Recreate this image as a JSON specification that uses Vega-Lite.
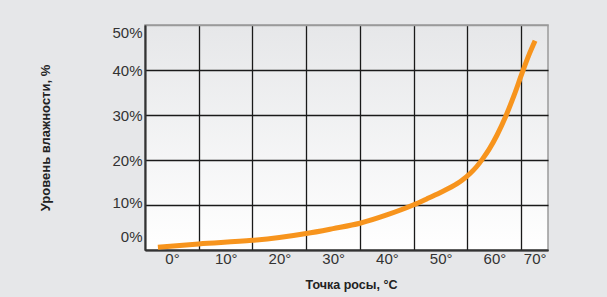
{
  "$schema": "https://vega.github.io/schema/vega-lite/v6.json",
  "autosize": "none",
  "width": 403,
  "height": 225,
  "padding": {"left": 145, "top": 25, "right": 59, "bottom": 47},
  "background": "#e6e7e9",
  "config": {
    "view": {
      "stroke": "#9a9a9a",
      "strokeWidth": 1.5,
      "fill": {"gradient": "linear", "x1": 0, "y1": 0, "x2": 0, "y2": 1,
        "stops": [{"offset": 0, "color": "#e6e7e9"}, {"offset": 1, "color": "#ffffff"}]}
    },
    "axis": {
      "labelFont": "Liberation Sans",
      "labelFontSize": 15,
      "labelColor": "#333333",
      "titleFont": "Liberation Sans",
      "titleFontWeight": "bold",
      "titleColor": "#222222",
      "grid": true,
      "gridColor": "#1a1a1a",
      "gridWidth": 1.3,
      "gridOpacity": 1,
      "domainColor": "#333333",
      "domainWidth": 2,
      "ticks": false,
      "labelFlush": false,
      "labelOverlap": false
    }
  },
  "data": {
    "values": [
      {"t": -2.6, "h": 0.6},
      {"t": 5.0, "h": 1.35},
      {"t": 15.0, "h": 2.15},
      {"t": 20.0, "h": 2.8},
      {"t": 25.0, "h": 3.65},
      {"t": 30.0, "h": 4.75},
      {"t": 35.0, "h": 5.95},
      {"t": 40.0, "h": 7.8},
      {"t": 44.9, "h": 10.0},
      {"t": 47.5, "h": 11.4},
      {"t": 50.0, "h": 12.8},
      {"t": 52.0, "h": 14.0},
      {"t": 54.0, "h": 15.5},
      {"t": 55.5, "h": 17.0},
      {"t": 56.7, "h": 18.5},
      {"t": 57.8, "h": 20.2},
      {"t": 59.0, "h": 22.3},
      {"t": 60.5, "h": 25.5},
      {"t": 62.1, "h": 29.6},
      {"t": 63.7, "h": 34.4},
      {"t": 65.2, "h": 39.4},
      {"t": 66.4, "h": 43.2},
      {"t": 67.6, "h": 46.5}
    ]
  },
  "mark": {"type": "line", "color": "#f7941d", "strokeWidth": 5, "interpolate": "monotone", "strokeCap": "butt"},
  "encoding": {
    "x": {
      "field": "t", "type": "quantitative",
      "scale": {"domain": [-5, 70], "nice": false, "zero": false},
      "axis": {
        "values": [-5, 5, 15, 25, 35, 45, 55, 65],
        "labelExpr": "(datum.value + 5) + '°'",
        "labelOffset": {"condition": {"test": "datum.value == 65", "value": 13.5}, "value": 27},
        "labelPadding": 13,
        "labelBaseline": "alphabetic",
        "title": "Точка росы, °С",
        "titleFontSize": 12.5,
        "titleX": 206,
        "titleY": 38,
        "titleBaseline": "alphabetic"
      }
    },
    "y": {
      "field": "h", "type": "quantitative",
      "scale": {"domain": [0, 50], "nice": false},
      "axis": {
        "values": [0, 10, 20, 30, 40, 50],
        "labelExpr": "datum.value + '%'",
        "labelBaseline": "middle",
        "labelPadding": 3,
        "labelOffset": {"condition": [{"test": "datum.value == 0", "value": -14}, {"test": "datum.value == 10", "value": -3}, {"test": "datum.value == 50", "value": 7}], "value": 0},
        "gridColor": {"condition": {"test": "datum.value == 50", "value": "#9a9a9a"}, "value": "#1a1a1a"},
        "title": "Уровень влажности, %",
        "titleFontSize": 13,
        "titleAngle": -90,
        "titleX": -93,
        "titleBaseline": "bottom"
      }
    }
  }
}
